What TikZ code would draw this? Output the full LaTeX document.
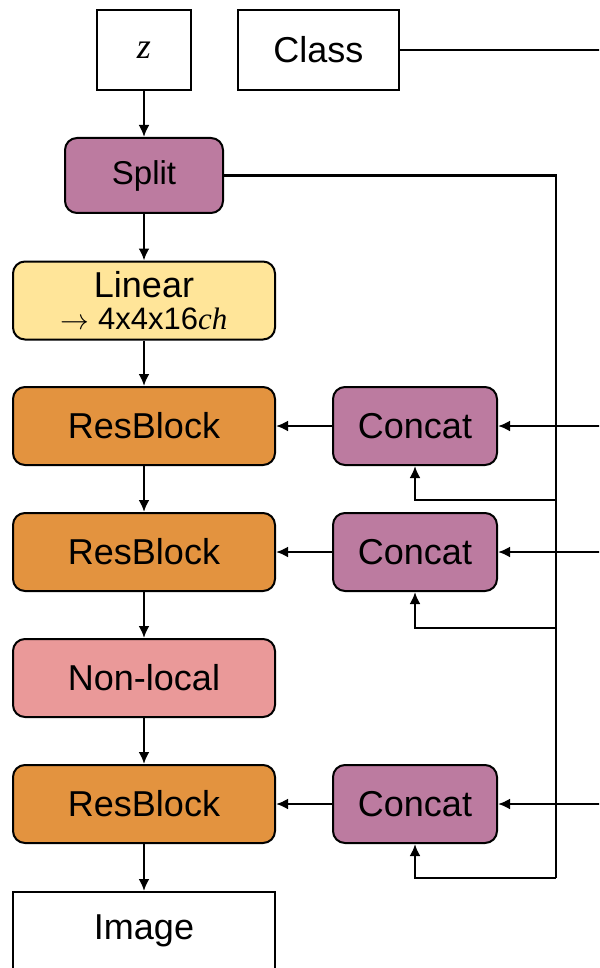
\documentclass[tikz,border=0pt]{standalone}
\usepackage{fontspec}
\setmainfont{Liberation Sans}
\newfontfamily\timesit{Liberation Serif}
\usetikzlibrary{arrows.meta, positioning}
\definecolor{splitpurple}{HTML}{BC7BA0}
\definecolor{linyellow}{HTML}{FFE599}
\definecolor{resorange}{HTML}{E3933F}
\definecolor{nlpink}{HTML}{EA9999}

\begin{document}
\begin{tikzpicture}[x=0.5pt, y=-0.5pt,
  box/.style={draw=black, line width=1pt, minimum height=39pt, inner sep=0pt,
    align=center, font=\fontsize{18}{20}\selectfont},
  plain/.style={box, fill=white},
  block/.style={box, rounded corners=6pt, minimum width=131pt},
  purp/.style={box, rounded corners=6pt, fill=splitpurple},
  wire/.style={line width=1.25pt},
  arr/.style={wire, -{Latex[length=6pt, width=5.5pt]}}]
  \clip (0,0) rectangle (599,968);

  % Eingaben
  \node[plain, minimum width=47pt, minimum height=40pt] (z) at (144,50) {\timesit\itshape z};
  \node[plain, minimum width=80.5pt, minimum height=40pt] (class) at (318.5,50) {Class};
  \node[purp, minimum width=79pt, minimum height=37.5pt,
    font=\fontsize{16.5}{18}\selectfont] (split) at (144,175.5) {Split};

  % Generator
  \node[block, fill=linyellow] (linear) at (144,300.5)
    {Linear\\[-4pt]{\fontsize{15.5}{16}\selectfont$\rightarrow$ 4x4x16{\timesit\itshape ch}}};
  \node[block, fill=resorange] (res1) at (144,426) {ResBlock};
  \node[block, fill=resorange] (res2) at (144,552) {ResBlock};
  \node[block, fill=nlpink] (nonlocal) at (144,678) {Non-local};
  \node[block, fill=resorange] (res3) at (144,804) {ResBlock};
  \node[plain, minimum width=131pt] (image) at (144,931) {Image};

  \node[purp, minimum width=82pt] (cat1) at (415,426) {Concat};
  \node[purp, minimum width=82pt] (cat2) at (415,552) {Concat};
  \node[purp, minimum width=82pt] (cat3) at (415,804) {Concat};

  % Hauptpfad
  \draw[arr] (z) -- (split);
  \draw[arr] (split) -- (linear);
  \draw[arr] (linear) -- (res1);
  \draw[arr] (res1) -- (res2);
  \draw[arr] (res2) -- (nonlocal);
  \draw[arr] (nonlocal) -- (res3);
  \draw[arr] (res3) -- (image);
  \draw[arr] (cat1) -- (res1);
  \draw[arr] (cat2) -- (res2);
  \draw[arr] (cat3) -- (res3);

  % Klassen-Bus (rechts ausserhalb)
  \coordinate (cbus) at (615,50);
  \draw[wire] (class) -- (cbus) -- (cbus |- cat3);
  \draw[arr] (cbus |- cat1) -- (cat1);
  \draw[arr] (cbus |- cat2) -- (cat2);
  \draw[arr] (cbus |- cat3) -- (cat3);

  % z-Bus
  \coordinate (tap1) at (556,500);
  \coordinate (tap2) at (556,628);
  \coordinate (tap3) at (556,878);
  \draw[wire] (split) -| (tap3);
  \draw[arr] (tap1) -| (cat1);
  \draw[arr] (tap2) -| (cat2);
  \draw[arr] (tap3) -| (cat3);
\end{tikzpicture}
\end{document}
